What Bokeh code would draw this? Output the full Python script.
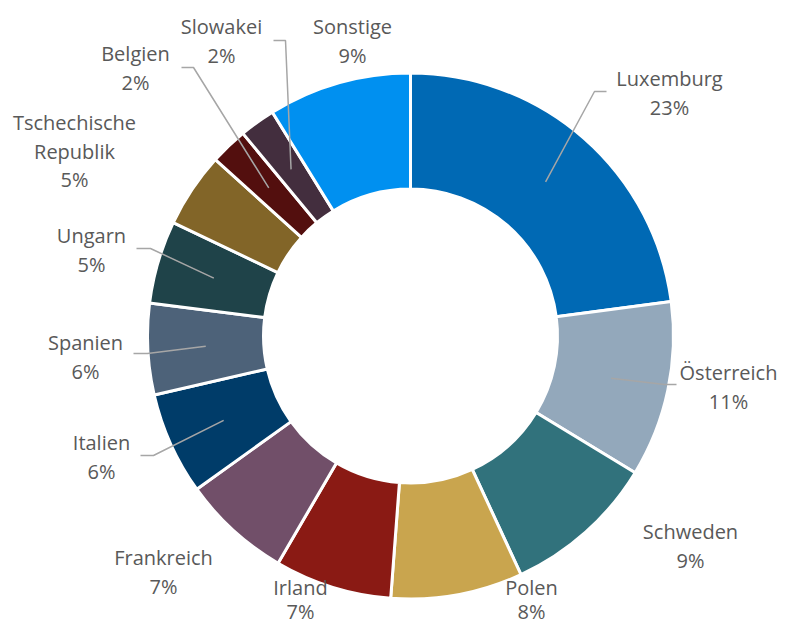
import math
from bokeh.plotting import figure
from bokeh.models import ColumnDataSource, Range1d
from bokeh.embed import file_html
from bokeh.resources import INLINE
from bokeh.core.properties import value

# ---------------- data ----------------
countries = ["Luxemburg", "Österreich", "Schweden", "Polen", "Irland", "Frankreich",
             "Italien", "Spanien", "Ungarn", "Tschechische Republik", "Belgien",
             "Slowakei", "Sonstige"]
shares = [22.9, 10.8, 9.4, 8.1, 7.2, 6.7, 6.3, 5.6, 5.1, 4.6, 2.3, 2.2, 8.8]
colors = ["#0069B4", "#93A8BB", "#31727C", "#C9A54E", "#8A1A14", "#714F69",
          "#003C69", "#4D6279", "#1F4349", "#826528", "#530F0E", "#432E3E",
          "#0090F0"]

# ---------------- layout (pixel coordinates, top-left origin) ----------------
W, H = 777, 628
CX, CY = 410, 335.5
R_OUT, R_IN = 263, 147
R_MID = (R_OUT + R_IN) / 2
LINE_GAP = 28.5

def Y(py):
    return H - py

label_pos = [(669, 78), (728, 372), (690, 531), (531, 587), (300, 587), (163, 557),
             (101, 442), (85, 342), (91, 235), (74, 122), (135, 53), (221, 26),
             (352, 26)]
label_gap = [LINE_GAP, LINE_GAP, LINE_GAP, 24, 24, LINE_GAP, LINE_GAP, LINE_GAP,
             LINE_GAP, LINE_GAP, LINE_GAP, LINE_GAP, LINE_GAP]
label_lines = [["Luxemburg"], ["Österreich"], ["Schweden"], ["Polen"], ["Irland"],
               ["Frankreich"], ["Italien"], ["Spanien"], ["Ungarn"],
               ["Tschechische", "Republik"], ["Belgien"], ["Slowakei"], ["Sonstige"]]
# leader lines: (elbow, end) or None
leaders = [((594, 91), (606, 91)), ((664, 384), (676, 384)), None, None, None, None,
           ((153, 455), (140, 455)), ((147, 353), (133, 353)),
           ((150, 248), (136, 248)), None, ((193, 67), (181, 67)),
           ((285, 40), (273, 40)), None]

total = sum(shares)
starts, ends, mids = [], [], []
cum = 0.0
for s in shares:
    a0 = cum / total
    cum += s
    a1 = cum / total
    # clockwise from 12 o'clock
    starts.append(math.pi / 2 - 2 * math.pi * a1)
    ends.append(math.pi / 2 - 2 * math.pi * a0)
    mids.append(math.pi / 2 - 2 * math.pi * (a0 + a1) / 2)

p = figure(width=W, height=H, output_backend="svg", toolbar_location=None,
           x_range=Range1d(0, W), y_range=Range1d(0, H),
           min_border=0, outline_line_color=None, background_fill_color="white",
           border_fill_color="white")
p.axis.visible = False
p.grid.visible = False

src = ColumnDataSource(dict(start=starts, end=ends, color=colors, name=countries))
p.annular_wedge(x=CX, y=Y(CY), inner_radius=R_IN, outer_radius=R_OUT,
                start_angle="start", end_angle="end", fill_color="color",
                line_color="white", line_width=3, source=src)

# leader lines
xs, ys = [], []
for i, ld in enumerate(leaders):
    if ld is None:
        continue
    sx = CX + R_MID * math.cos(mids[i])
    sy = Y(CY) + R_MID * math.sin(mids[i])
    (ex, ey), (fx, fy) = ld
    xs.append([sx, ex, fx])
    ys.append([sy, Y(ey), Y(fy)])
p.multi_line(xs=xs, ys=ys, line_color="#A6A6A6", line_width=1.5)

# labels
tx, ty, tt = [], [], []
for i, lines in enumerate(label_lines):
    lx, ly = label_pos[i]
    pct = f"{round(shares[i] / total * 100)}%"
    for k, t in enumerate(lines + [pct]):
        tx.append(lx)
        ty.append(Y(ly + k * label_gap[i]))
        tt.append(t)
p.text(x=tx, y=ty, text=tt, text_align="center", text_baseline="middle",
       text_color="#595959", text_font=value("Open Sans"), text_font_size="20px")

open("out.html", "w").write(file_html(p, INLINE))
